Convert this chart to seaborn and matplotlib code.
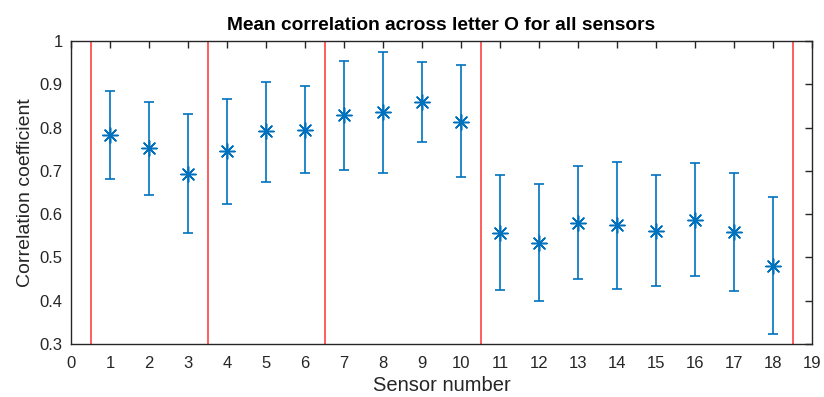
import numpy as np
import pandas as pd
import matplotlib
matplotlib.use("Agg")
import matplotlib.pyplot as plt
import seaborn as sns

sensors = list(range(1, 19))
means = [0.783, 0.752, 0.693, 0.745, 0.791, 0.794, 0.829, 0.835, 0.859, 0.813,
         0.557, 0.534, 0.580, 0.574, 0.562, 0.587, 0.559, 0.480]
upper = [0.884, 0.859, 0.831, 0.865, 0.905, 0.895, 0.954, 0.975, 0.951, 0.945,
         0.691, 0.669, 0.712, 0.721, 0.691, 0.718, 0.694, 0.639]
lower = [0.682, 0.645, 0.557, 0.624, 0.675, 0.694, 0.703, 0.694, 0.767, 0.685,
         0.425, 0.400, 0.450, 0.428, 0.434, 0.456, 0.422, 0.322]
group_bounds = [0.5, 3.5, 6.5, 10.5, 18.5]
xticks = list(range(0, 20))
yticks = [0.3, 0.4, 0.5, 0.6, 0.7, 0.8, 0.9, 1.0]
ytick_labels = ["0.3", "0.4", "0.5", "0.6", "0.7", "0.8", "0.9", "1"]

sns.set_style("white")
plt.rcParams['font.family'] = ['Liberation Sans', 'DejaVu Sans']

df = pd.DataFrame({"sensor": sensors, "mean": means, "upper": upper, "lower": lower})

fig = plt.figure(figsize=(8.24, 3.97), dpi=100)
ax = fig.add_axes([71/824, 1 - 344/397, (812-71)/824, (344-41)/397])

blue = "#0072BD"
for b in group_bounds:
    ax.axvline(b, color="#ff3333", lw=1.3, alpha=0.85, zorder=1)

yerr = np.vstack([df["mean"] - df["lower"], df["upper"] - df["mean"]])
ax.errorbar(df["sensor"], df["mean"], yerr=yerr, fmt="none", ecolor=blue,
            elinewidth=1.2, capsize=3.8, capthick=1.2, zorder=2)
sns.scatterplot(data=df, x="sensor", y="mean", ax=ax, marker=(8, 2, 0), s=120,
                color=blue, edgecolor=blue, linewidth=1.1, zorder=3, legend=False)

ax.set_xlim(0, 19)
ax.set_ylim(0.3, 1.0)
ax.set_xticks(xticks)
ax.set_yticks(yticks)
ax.set_yticklabels(ytick_labels)
ax.tick_params(direction="in", top=True, right=True, length=5, width=1.0,
               colors="#262626", labelsize=12, labelcolor="#262626")
ax.tick_params(axis="x", pad=9)
ax.tick_params(axis="y", pad=6)
for s in ax.spines.values():
    s.set_color("#262626")
    s.set_linewidth(1.0)
ax.set_xlabel("Sensor number", fontsize=14.5, color="#262626", labelpad=3)
ax.set_ylabel("Correlation coefficient", fontsize=14, color="#262626", labelpad=4)
ax.set_title("Mean correlation across letter O for all sensors", fontsize=13.8,
             fontweight="bold", color="black", pad=8)

fig.savefig("out.png", dpi=100)
